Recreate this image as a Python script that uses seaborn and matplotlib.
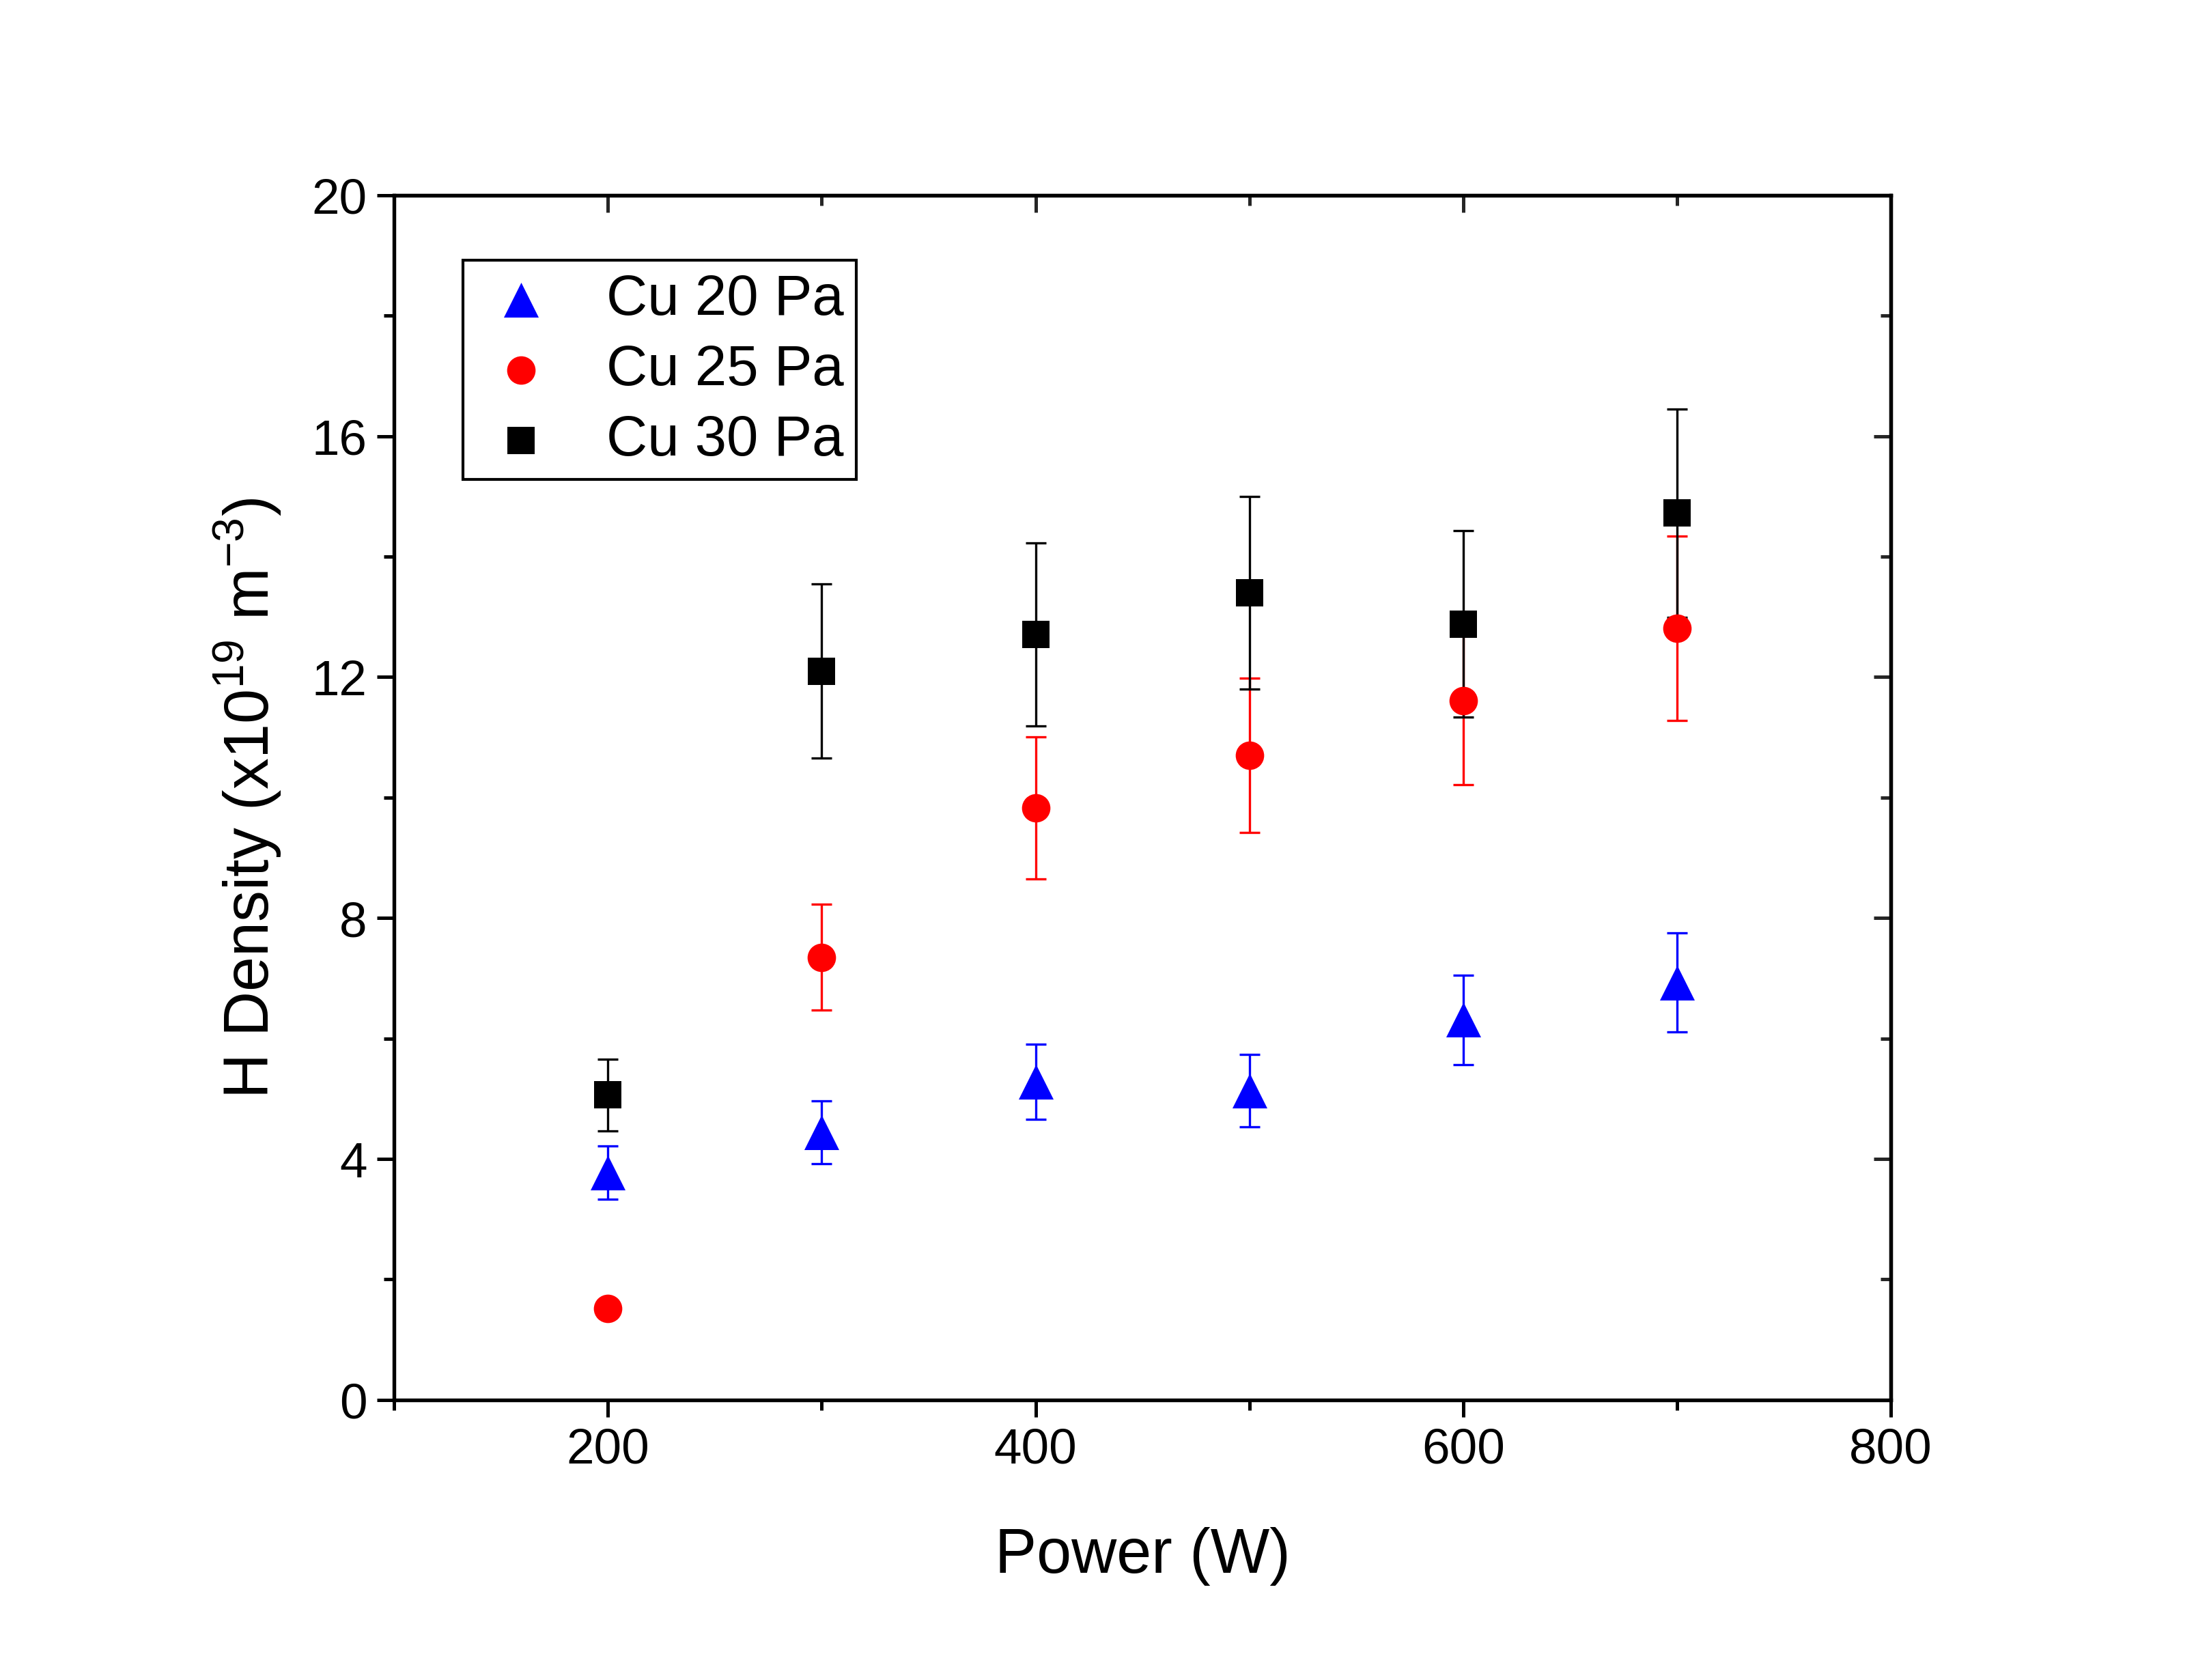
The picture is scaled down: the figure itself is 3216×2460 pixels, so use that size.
import matplotlib
matplotlib.use("Agg")
import matplotlib.pyplot as plt
import seaborn as sns
import pandas as pd
from matplotlib.ticker import MultipleLocator

# values
power = [200, 300, 400, 500, 600, 700]
series_names = ["Cu 20 Pa", "Cu 25 Pa", "Cu 30 Pa"]
cu20 = [3.77, 4.44, 5.28, 5.13, 6.31, 6.93]
cu20_err = [0.44, 0.52, 0.62, 0.60, 0.74, 0.82]
cu25 = [1.52, 7.35, 9.83, 10.70, 11.61, 12.81]
cu25_err = [0.05, 0.88, 1.18, 1.28, 1.40, 1.53]
cu30 = [5.06, 12.10, 12.71, 13.40, 12.88, 14.72]
cu30_err = [0.60, 1.45, 1.52, 1.60, 1.55, 1.73]

colors = {"Cu 20 Pa": "#0000ff", "Cu 25 Pa": "#ff0000", "Cu 30 Pa": "#000000"}
markers = {"Cu 20 Pa": "^", "Cu 25 Pa": "o", "Cu 30 Pa": "s"}
sizes = {"Cu 20 Pa": 150, "Cu 25 Pa": 100, "Cu 30 Pa": 90}

df = pd.concat([
    pd.DataFrame({"power": power, "density": vals, "err": errs, "series": name})
    for name, vals, errs in zip(series_names, [cu20, cu25, cu30], [cu20_err, cu25_err, cu30_err])
], ignore_index=True)

sns.set_theme(style="ticks")
plt.rcParams["font.family"] = ["Liberation Sans", "DejaVu Sans"]
plt.rcParams["mathtext.fontset"] = "custom"
plt.rcParams["mathtext.rm"] = "Liberation Sans"
plt.rcParams["text.color"] = "black"
plt.rcParams["axes.labelcolor"] = "black"

fig = plt.figure(figsize=(10.72, 8.203), dpi=300)
ax = fig.add_axes([0.1795, 0.1667, 0.6815, 0.7168])

# error bars first, markers on top
for name in series_names:
    sub = df[df["series"] == name]
    ax.errorbar(sub["power"], sub["density"], yerr=sub["err"], fmt="none",
                ecolor=colors[name], elinewidth=0.8, capsize=3.5, capthick=0.8, zorder=2)

for name in series_names:
    sub = df[df["series"] == name]
    sns.scatterplot(data=sub, x="power", y="density", color=colors[name], marker=markers[name],
                    s=sizes[name], linewidth=0, ax=ax, zorder=3, label=name)

ax.set_xlim(100, 800)
ax.set_ylim(0, 20)
ax.xaxis.set_major_locator(MultipleLocator(200))
ax.xaxis.set_minor_locator(MultipleLocator(100))
ax.yaxis.set_major_locator(MultipleLocator(4))
ax.yaxis.set_minor_locator(MultipleLocator(2))

ax.tick_params(which="both", direction="out", top=False, right=False, labelsize=17.5, width=1.2,
               colors="black")
ax.tick_params(which="major", length=6)
ax.tick_params(which="minor", length=3.5)
for sp in ax.spines.values():
    sp.set_linewidth(1.3)
    sp.set_color("black")

# inward ticks on top and right, like the original software
ax_top = ax.secondary_xaxis("top")
ax_top.xaxis.set_major_locator(MultipleLocator(200))
ax_top.xaxis.set_minor_locator(MultipleLocator(100))
ax_top.tick_params(which="both", direction="in", labeltop=False, width=1.2)
ax_top.tick_params(which="major", length=6)
ax_top.tick_params(which="minor", length=3.5)
ax_right = ax.secondary_yaxis("right")
ax_right.yaxis.set_major_locator(MultipleLocator(4))
ax_right.yaxis.set_minor_locator(MultipleLocator(2))
ax_right.tick_params(which="both", direction="in", labelright=False, width=1.2)
ax_right.tick_params(which="major", length=6)
ax_right.tick_params(which="minor", length=3.5)

ax.set_xlabel("Power (W)", fontsize=22, labelpad=19)
ax.set_ylabel("H Density (x10$^{19}$ m$^{-3}$)", fontsize=22, labelpad=10)

handles, labels = ax.get_legend_handles_labels()
leg = ax.legend(handles, labels, loc="upper left", bbox_to_anchor=(0.046, 0.946), borderaxespad=0,
                fontsize=20, frameon=True, fancybox=False, edgecolor="black", framealpha=1,
                handlelength=1.6, handletextpad=0.7, labelspacing=0.30, borderpad=0.22)
leg.get_frame().set_linewidth(1.0)

fig.savefig("out.png", dpi=300)
